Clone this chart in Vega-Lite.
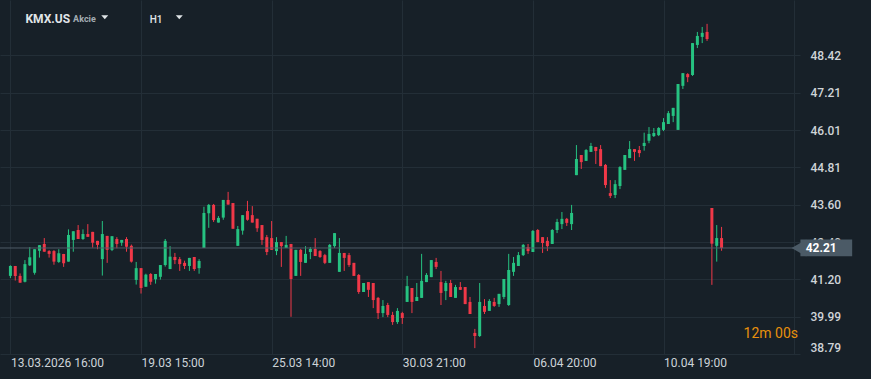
{
  "$schema": "https://vega.github.io/schema/vega-lite/v6.json",
  "autosize": {"type": "none"},
  "width": 800,
  "height": 354,
  "padding": {"left": 0, "top": 0, "right": 71, "bottom": 25},
  "background": "#172028",
  "config": {
    "view": {"stroke": null},
    "font": "Roboto"
  },
  "datasets": {
    "candles": [
      {"i":0,"o":41.31,"h":41.65,"l":41.24,"c":41.63},
      {"i":1,"o":41.63,"h":41.63,"l":41.16,"c":41.31},
      {"i":2,"o":41.31,"h":41.39,"l":41.09,"c":41.09},
      {"i":3,"o":41.12,"h":41.82,"l":41.10,"c":41.69},
      {"i":4,"o":41.65,"h":42.24,"l":41.63,"c":41.91},
      {"i":5,"o":41.41,"h":42.17,"l":41.35,"c":42.17},
      {"i":6,"o":42.12,"h":42.30,"l":41.90,"c":42.30},
      {"i":7,"o":42.34,"h":42.53,"l":42.09,"c":42.09},
      {"i":8,"o":42.11,"h":42.14,"l":41.90,"c":42.02},
      {"i":9,"o":42.11,"h":42.14,"l":41.67,"c":41.77},
      {"i":10,"o":41.76,"h":42.17,"l":41.73,"c":42.04},
      {"i":11,"o":42.02,"h":42.02,"l":41.60,"c":41.72},
      {"i":12,"o":41.77,"h":42.81,"l":41.77,"c":42.63},
      {"i":13,"o":42.47,"h":42.75,"l":42.09,"c":42.75},
      {"i":14,"o":42.79,"h":42.95,"l":42.50,"c":42.50},
      {"i":15,"o":42.50,"h":42.81,"l":42.47,"c":42.66},
      {"i":16,"o":42.66,"h":42.98,"l":42.57,"c":42.57},
      {"i":17,"o":42.73,"h":42.73,"l":42.22,"c":42.38},
      {"i":18,"o":42.44,"h":42.44,"l":42.17,"c":42.31},
      {"i":19,"o":41.85,"h":43.08,"l":41.32,"c":42.66},
      {"i":20,"o":42.60,"h":42.60,"l":41.73,"c":42.15},
      {"i":21,"o":42.15,"h":42.59,"l":42.11,"c":42.59},
      {"i":22,"o":42.50,"h":42.56,"l":42.20,"c":42.34},
      {"i":23,"o":42.38,"h":42.47,"l":42.28,"c":42.47},
      {"i":24,"o":42.50,"h":42.56,"l":42.09,"c":42.25},
      {"i":25,"o":42.28,"h":42.32,"l":41.74,"c":41.77},
      {"i":26,"o":41.18,"h":41.76,"l":41.03,"c":41.56},
      {"i":27,"o":41.56,"h":41.56,"l":40.74,"c":40.92},
      {"i":28,"o":40.96,"h":41.38,"l":40.96,"c":41.35},
      {"i":29,"o":41.37,"h":41.40,"l":41.02,"c":41.12},
      {"i":30,"o":41.20,"h":41.37,"l":41.06,"c":41.37},
      {"i":31,"o":41.28,"h":41.66,"l":41.19,"c":41.66},
      {"i":32,"o":41.66,"h":42.50,"l":41.61,"c":42.44},
      {"i":33,"o":41.53,"h":42.27,"l":41.53,"c":41.93},
      {"i":34,"o":41.92,"h":42.05,"l":41.69,"c":41.82},
      {"i":35,"o":41.85,"h":41.92,"l":41.47,"c":41.69},
      {"i":36,"o":41.73,"h":41.80,"l":41.53,"c":41.63},
      {"i":37,"o":41.63,"h":41.89,"l":41.47,"c":41.89},
      {"i":38,"o":41.92,"h":41.92,"l":41.47,"c":41.53},
      {"i":39,"o":41.56,"h":41.85,"l":41.38,"c":41.79},
      {"i":40,"o":42.21,"h":43.54,"l":42.21,"c":43.34},
      {"i":41,"o":43.33,"h":43.63,"l":42.86,"c":43.60},
      {"i":42,"o":43.60,"h":43.63,"l":43.05,"c":43.11},
      {"i":43,"o":43.03,"h":43.24,"l":43.03,"c":43.18},
      {"i":44,"o":43.19,"h":43.76,"l":43.12,"c":43.76},
      {"i":45,"o":43.76,"h":44.02,"l":43.61,"c":43.61},
      {"i":46,"o":43.66,"h":43.66,"l":42.83,"c":42.83},
      {"i":47,"o":42.28,"h":42.92,"l":42.28,"c":42.82},
      {"i":48,"o":42.77,"h":43.27,"l":42.64,"c":43.27},
      {"i":49,"o":43.40,"h":43.73,"l":43.09,"c":43.12},
      {"i":50,"o":43.27,"h":43.56,"l":43.03,"c":43.03},
      {"i":51,"o":43.15,"h":43.15,"l":42.73,"c":42.85},
      {"i":52,"o":42.95,"h":42.95,"l":42.31,"c":42.47},
      {"i":53,"o":42.56,"h":42.63,"l":41.98,"c":42.08},
      {"i":54,"o":42.53,"h":43.08,"l":42.15,"c":42.15},
      {"i":55,"o":42.11,"h":42.56,"l":41.98,"c":42.40},
      {"i":56,"o":42.40,"h":42.40,"l":41.60,"c":42.27},
      {"i":57,"o":42.21,"h":42.60,"l":42.21,"c":42.31},
      {"i":58,"o":42.34,"h":42.34,"l":39.99,"c":41.21},
      {"i":59,"o":41.31,"h":42.15,"l":41.31,"c":42.15},
      {"i":60,"o":42.15,"h":42.18,"l":41.31,"c":41.76},
      {"i":61,"o":41.73,"h":42.27,"l":41.73,"c":42.02},
      {"i":62,"o":42.08,"h":42.24,"l":41.85,"c":42.18},
      {"i":63,"o":42.18,"h":42.53,"l":41.95,"c":41.95},
      {"i":64,"o":42.11,"h":42.14,"l":41.89,"c":41.92},
      {"i":65,"o":41.98,"h":42.02,"l":41.69,"c":41.73},
      {"i":66,"o":41.73,"h":42.34,"l":41.73,"c":42.31},
      {"i":67,"o":42.27,"h":42.69,"l":42.21,"c":42.69},
      {"i":68,"o":41.44,"h":42.53,"l":41.44,"c":42.05},
      {"i":69,"o":42.05,"h":42.05,"l":41.47,"c":41.89},
      {"i":70,"o":41.98,"h":42.05,"l":41.60,"c":41.66},
      {"i":71,"o":41.73,"h":41.73,"l":41.31,"c":41.31},
      {"i":72,"o":41.34,"h":41.37,"l":40.73,"c":40.79},
      {"i":73,"o":40.79,"h":41.08,"l":40.79,"c":41.08},
      {"i":74,"o":41.11,"h":41.11,"l":40.63,"c":40.86},
      {"i":75,"o":41.08,"h":41.08,"l":40.27,"c":40.53},
      {"i":76,"o":40.60,"h":40.63,"l":39.92,"c":40.11},
      {"i":77,"o":40.11,"h":40.53,"l":39.98,"c":40.34},
      {"i":78,"o":40.37,"h":40.44,"l":39.98,"c":40.05},
      {"i":79,"o":40.05,"h":40.15,"l":39.73,"c":39.82},
      {"i":80,"o":39.82,"h":40.27,"l":39.76,"c":40.18},
      {"i":81,"o":40.11,"h":40.15,"l":39.76,"c":39.95},
      {"i":82,"o":40.47,"h":41.31,"l":40.47,"c":40.98},
      {"i":83,"o":40.92,"h":40.92,"l":40.11,"c":40.47},
      {"i":84,"o":40.50,"h":41.08,"l":40.50,"c":40.63},
      {"i":85,"o":40.60,"h":42.02,"l":40.60,"c":41.15},
      {"i":86,"o":41.11,"h":41.40,"l":41.11,"c":41.34},
      {"i":87,"o":41.27,"h":41.82,"l":41.27,"c":41.82},
      {"i":88,"o":41.76,"h":41.89,"l":41.53,"c":41.60},
      {"i":89,"o":41.11,"h":41.47,"l":40.37,"c":40.76},
      {"i":90,"o":40.82,"h":41.15,"l":40.53,"c":41.08},
      {"i":91,"o":41.08,"h":41.18,"l":40.63,"c":40.63},
      {"i":92,"o":40.60,"h":41.02,"l":40.60,"c":40.95},
      {"i":93,"o":40.95,"h":41.11,"l":40.86,"c":40.86},
      {"i":94,"o":40.95,"h":40.95,"l":40.40,"c":40.40},
      {"i":95,"o":40.47,"h":40.63,"l":40.08,"c":40.08},
      {"i":96,"o":39.47,"h":39.60,"l":38.98,"c":39.37},
      {"i":97,"o":39.37,"h":41.08,"l":39.34,"c":40.47},
      {"i":98,"o":40.34,"h":40.56,"l":40.08,"c":40.15},
      {"i":99,"o":40.18,"h":40.56,"l":40.18,"c":40.50},
      {"i":100,"o":40.47,"h":40.60,"l":40.31,"c":40.34},
      {"i":101,"o":40.40,"h":40.73,"l":40.31,"c":40.73},
      {"i":102,"o":40.63,"h":41.21,"l":40.56,"c":41.21},
      {"i":103,"o":40.37,"h":42.02,"l":40.34,"c":41.50},
      {"i":104,"o":41.44,"h":41.92,"l":41.31,"c":41.73},
      {"i":105,"o":41.63,"h":42.08,"l":41.63,"c":41.98},
      {"i":106,"o":41.98,"h":42.34,"l":41.95,"c":42.31},
      {"i":107,"o":42.24,"h":42.34,"l":42.02,"c":42.11},
      {"i":108,"o":42.08,"h":42.79,"l":42.08,"c":42.76},
      {"i":109,"o":42.79,"h":42.82,"l":42.40,"c":42.40},
      {"i":110,"o":42.56,"h":42.56,"l":42.05,"c":42.37},
      {"i":111,"o":42.44,"h":42.56,"l":42.11,"c":42.27},
      {"i":112,"o":42.34,"h":42.82,"l":42.34,"c":42.79},
      {"i":113,"o":42.79,"h":43.15,"l":42.69,"c":43.05},
      {"i":114,"o":42.98,"h":43.37,"l":42.82,"c":43.15},
      {"i":115,"o":43.15,"h":43.18,"l":42.92,"c":43.02},
      {"i":116,"o":42.98,"h":43.60,"l":42.79,"c":43.34},
      {"i":117,"o":44.56,"h":45.53,"l":44.56,"c":45.08},
      {"i":118,"o":45.21,"h":45.21,"l":44.76,"c":44.98},
      {"i":119,"o":45.02,"h":45.40,"l":45.02,"c":45.37},
      {"i":120,"o":45.31,"h":45.60,"l":45.31,"c":45.50},
      {"i":121,"o":45.47,"h":45.47,"l":44.92,"c":45.34},
      {"i":122,"o":45.40,"h":45.53,"l":44.85,"c":44.85},
      {"i":123,"o":44.89,"h":44.92,"l":44.15,"c":44.24},
      {"i":124,"o":43.98,"h":44.40,"l":43.82,"c":43.89},
      {"i":125,"o":43.92,"h":44.40,"l":43.82,"c":44.27},
      {"i":126,"o":44.21,"h":44.85,"l":44.11,"c":44.82},
      {"i":127,"o":44.73,"h":45.21,"l":44.73,"c":45.21},
      {"i":128,"o":45.11,"h":45.66,"l":45.11,"c":45.40},
      {"i":129,"o":45.40,"h":45.40,"l":45.02,"c":45.31},
      {"i":130,"o":45.37,"h":45.50,"l":45.14,"c":45.27},
      {"i":131,"o":45.50,"h":45.93,"l":45.35,"c":45.60},
      {"i":132,"o":45.67,"h":46.11,"l":45.59,"c":45.89},
      {"i":133,"o":45.82,"h":46.08,"l":45.79,"c":45.92},
      {"i":134,"o":45.85,"h":46.11,"l":45.82,"c":46.08},
      {"i":135,"o":46.02,"h":46.40,"l":45.98,"c":46.27},
      {"i":136,"o":46.21,"h":46.63,"l":46.21,"c":46.56},
      {"i":137,"o":46.47,"h":46.73,"l":46.27,"c":46.73},
      {"i":138,"o":46.02,"h":47.50,"l":46.02,"c":47.50},
      {"i":139,"o":47.44,"h":47.85,"l":47.34,"c":47.85},
      {"i":140,"o":47.82,"h":47.85,"l":47.56,"c":47.72},
      {"i":141,"o":47.79,"h":48.82,"l":47.76,"c":48.82},
      {"i":142,"o":48.76,"h":49.18,"l":48.66,"c":49.05},
      {"i":143,"o":49.02,"h":49.34,"l":48.82,"c":49.15},
      {"i":144,"o":49.18,"h":49.44,"l":48.89,"c":48.95},
      {"i":145,"o":43.50,"h":43.50,"l":41.02,"c":42.35},
      {"i":146,"o":42.28,"h":42.95,"l":41.77,"c":42.53},
      {"i":147,"o":42.53,"h":42.89,"l":42.12,"c":42.21}
    ],
    "labels": [
      {"t": "KMX.US", "p": 3.1, "v": 49.61, "g": "sym"},
      {"t": "Akcie", "p": 12.96, "v": 49.59, "g": "type"},
      {"t": "H1", "p": 28.8, "v": 49.55, "g": "tf"},
      {"t": "12m 00s", "p": 162.8, "v": 39.45, "g": "timer"},
      {"t": "42.21", "p": 164.4, "v": 42.21, "g": "price"}
    ],
    "price": [{"v": 42.21, "p": 163.3, "p2": 174.0, "top": 42.48, "bot": 41.94, "tip": 163.0}],
    "menus": [{"p": 19.5, "v": 49.66}, {"p": 34.9, "v": 49.66}]
  },
  "layer": [
    {
      "data": {"name": "candles"},
      "mark": {"type": "rule", "strokeWidth": 1},
      "encoding": {
        "x": {
          "field": "i",
          "type": "quantitative",
          "scale": {"domain": [-1.12, 162.18], "nice": false, "zero": false},
          "axis": {
            "title": null,
            "values": [0, 27, 54, 81, 108, 135, 162],
            "labelExpr": "datum.value == 0 ? '13.03.2026 16:00' : datum.value == 27 ? '19.03 15:00' : datum.value == 54 ? '25.03 14:00' : datum.value == 81 ? '30.03 21:00' : datum.value == 108 ? '06.04 20:00' : datum.value == 135 ? '10.04 19:00' : ''",
            "grid": true,
            "gridColor": "#232e37",
            "gridWidth": 1,
            "domain": false,
            "ticks": false,
            "labelAlign": "left",
            "labelBaseline": "top",
            "labelPadding": 3,
            "labelFlush": false,
            "labelOverlap": false,
            "labelFont": "Roboto",
            "labelFontSize": 12,
            "labelColor": "#cdd3d8"
          }
        },
        "y": {
          "field": "l",
          "type": "quantitative",
          "scale": {"domain": [38.79, 50.21], "nice": false, "zero": false},
          "axis": {
            "title": null,
            "orient": "right",
            "values": [38.79, 39.99, 41.20, 42.40, 43.60, 44.81, 46.01, 47.21, 48.42],
            "format": ".2f",
            "grid": true,
            "gridColor": "#232e37",
            "gridWidth": 1,
            "domain": false,
            "ticks": false,
            "labelPadding": 10,
            "labelFlush": true,
            "labelFont": "Roboto",
            "labelFontSize": 12,
            "labelFontWeight": 500,
            "labelColor": "#cfd4d8"
          }
        },
        "y2": {"field": "h"},
        "color": {
          "condition": {"test": "datum.c >= datum.o", "value": "#26c281"},
          "value": "#f03848"
        }
      }
    },
    {
      "data": {"name": "candles"},
      "mark": {"type": "bar", "width": 3},
      "encoding": {
        "x": {"field": "i", "type": "quantitative", "scale": {"domain": [-1.12, 162.18], "nice": false, "zero": false}},
        "y": {"field": "o", "type": "quantitative", "scale": {"domain": [38.79, 50.21], "nice": false, "zero": false}},
        "y2": {"field": "c"},
        "color": {
          "condition": {"test": "datum.c >= datum.o", "value": "#26c281"},
          "value": "#f03848"
        }
      }
    },
    {
      "data": {"name": "price"},
      "mark": {"type": "rule", "color": "#4e5c67", "strokeWidth": 1},
      "encoding": {"y": {"field": "v", "type": "quantitative", "scale": {"domain": [38.79, 50.21], "nice": false, "zero": false}}}
    },
    {
      "data": {"name": "price"},
      "mark": {"type": "rect", "color": "#4b5a66", "opacity": 1},
      "encoding": {
        "x": {"field": "p", "type": "quantitative", "scale": {"domain": [-1.12, 162.18], "nice": false, "zero": false}},
        "x2": {"field": "p2"},
        "y": {"field": "top", "type": "quantitative", "scale": {"domain": [38.79, 50.21], "nice": false, "zero": false}},
        "y2": {"field": "bot"}
      }
    },
    {
      "data": {"name": "price"},
      "mark": {"type": "point", "filled": true, "opacity": 1, "size": 289, "color": "#4b5a66", "shape": "triangle-left"},
      "encoding": {
        "x": {"field": "tip", "type": "quantitative", "scale": {"domain": [-1.12, 162.18], "nice": false, "zero": false}},
        "y": {"field": "v", "type": "quantitative", "scale": {"domain": [38.79, 50.21], "nice": false, "zero": false}}
      }
    },
    {
      "data": {"name": "menus"},
      "mark": {"type": "point", "filled": true, "opacity": 1, "size": 49, "color": "#dfe3e6", "shape": "M-1,-0.5L1,-0.5L0,0.6Z"},
      "encoding": {
        "x": {"field": "p", "type": "quantitative", "scale": {"domain": [-1.12, 162.18], "nice": false, "zero": false}},
        "y": {"field": "v", "type": "quantitative", "scale": {"domain": [38.79, 50.21], "nice": false, "zero": false}}
      }
    },
    {
      "data": {"name": "labels"},
      "transform": [{"filter": "datum.g == 'sym' || datum.g == 'price'"}],
      "mark": {"type": "text", "baseline": "middle", "align": "left", "font": "Roboto", "fontSize": 12, "fontWeight": "bold"},
      "encoding": {
        "x": {"field": "p", "type": "quantitative", "scale": {"domain": [-1.12, 162.18], "nice": false, "zero": false}},
        "y": {"field": "v", "type": "quantitative", "scale": {"domain": [38.79, 50.21], "nice": false, "zero": false}},
        "text": {"field": "t"},
        "color": {"condition": {"test": "datum.g == 'price'", "value": "#ffffff"}, "value": "#e1e5e8"}
      }
    },
    {
      "data": {"name": "labels"},
      "transform": [{"filter": "datum.g == 'type'"}],
      "mark": {"type": "text", "baseline": "middle", "align": "left", "font": "Roboto", "fontSize": 9, "fontWeight": "bold", "color": "#a3acb3"},
      "encoding": {
        "x": {"field": "p", "type": "quantitative", "scale": {"domain": [-1.12, 162.18], "nice": false, "zero": false}},
        "y": {"field": "v", "type": "quantitative", "scale": {"domain": [38.79, 50.21], "nice": false, "zero": false}},
        "text": {"field": "t"}
      }
    },
    {
      "data": {"name": "labels"},
      "transform": [{"filter": "datum.g == 'tf'"}],
      "mark": {"type": "text", "baseline": "middle", "align": "left", "font": "Roboto", "fontSize": 10, "fontWeight": 500, "color": "#e1e5e8"},
      "encoding": {
        "x": {"field": "p", "type": "quantitative", "scale": {"domain": [-1.12, 162.18], "nice": false, "zero": false}},
        "y": {"field": "v", "type": "quantitative", "scale": {"domain": [38.79, 50.21], "nice": false, "zero": false}},
        "text": {"field": "t"}
      }
    },
    {
      "data": {"name": "labels"},
      "transform": [{"filter": "datum.g == 'timer'"}],
      "mark": {"type": "text", "baseline": "middle", "align": "right", "font": "Roboto", "fontSize": 14, "color": "#e8900c"},
      "encoding": {
        "x": {"field": "p", "type": "quantitative", "scale": {"domain": [-1.12, 162.18], "nice": false, "zero": false}},
        "y": {"field": "v", "type": "quantitative", "scale": {"domain": [38.79, 50.21], "nice": false, "zero": false}},
        "text": {"field": "t"}
      }
    }
  ]
}
